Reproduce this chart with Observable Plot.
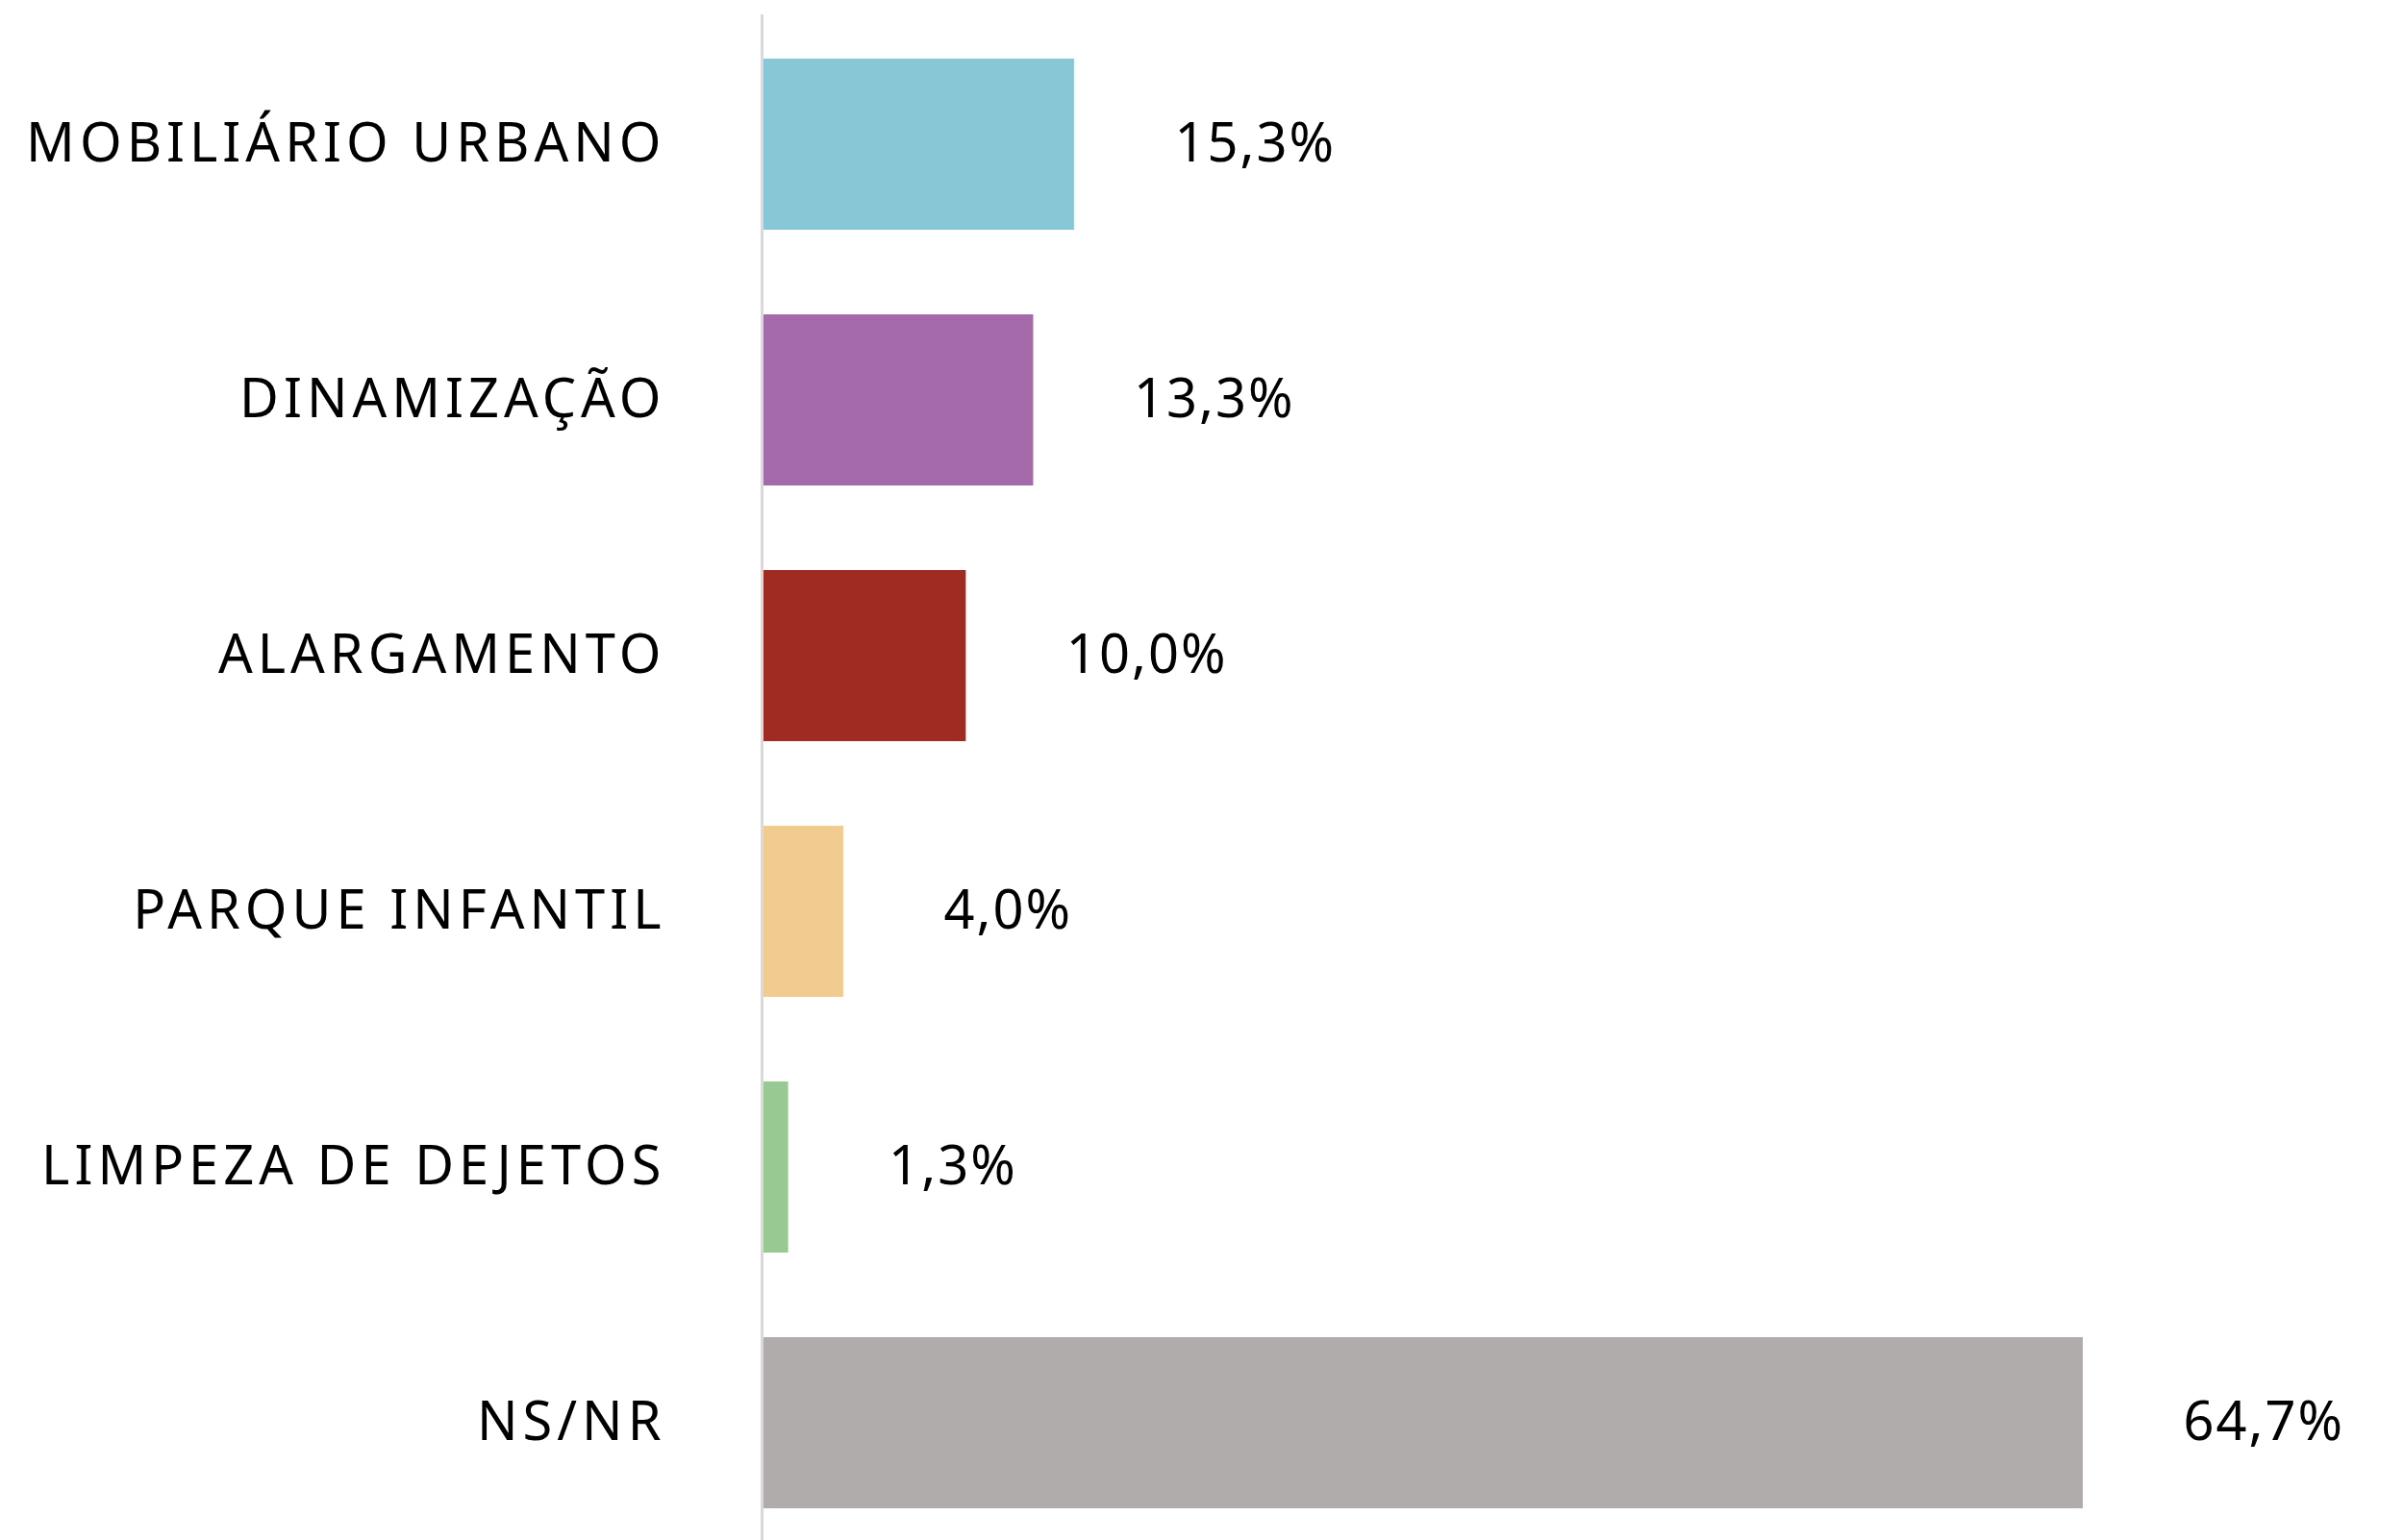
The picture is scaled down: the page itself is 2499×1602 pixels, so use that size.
<!DOCTYPE html>
<html>
<head>
<meta charset="utf-8">
<script src="https://cdn.jsdelivr.net/npm/d3@7"></script>
<script src="https://cdn.jsdelivr.net/npm/@observablehq/plot@0.6"></script>
<style>
  html, body { margin: 0; padding: 0; background: #fff; }
  g[aria-label="y-axis tick label"] text { letter-spacing: 5px; }
  g[aria-label="text"] text { letter-spacing: 2px; }
</style>
</head>
<body>
<div id="chart"></div>
<script>
const categories = ["MOBILIÁRIO URBANO", "DINAMIZAÇÃO", "ALARGAMENTO", "PARQUE INFANTIL", "LIMPEZA DE DEJETOS", "NS/NR"];
const values = [15.3, 13.3, 10.0, 4.0, 1.3, 64.7];
const valueLabels = ["15,3%", "13,3%", "10,0%", "4,0%", "1,3%", "64,7%"];
const colors = ["#87c7d6", "#a46aaa", "#a02b22", "#f2cb90", "#98c992", "#b0acab"];

const data = categories.map((c, i) => ({category: c, value: values[i], label: valueLabels[i], color: colors[i]}));

const chart = Plot.plot({
  width: 2499,
  height: 1602,
  marginTop: 59,
  marginBottom: 31,
  marginLeft: 792,
  marginRight: 0,
  style: {fontFamily: "'Noto Sans', sans-serif", fontSize: "56px", color: "#000", background: "#fff"},
  x: {domain: [0, 64.7], range: [792, 2166], axis: null},
  y: {domain: categories, paddingInner: 0.33, paddingOuter: 0, label: null},
  marks: [
    Plot.barX(data, {y: "category", x: "value", fill: "color"}),
    Plot.ruleX([0], {stroke: "#d9d9d9", strokeWidth: 3, insetTop: -44, insetBottom: -31}),
    Plot.text(data, {y: "category", x: "value", text: "label", textAnchor: "start", dx: 104, fill: "#000", fontSize: 56}),
    Plot.axisY({tickSize: 0, tickPadding: 100, fontSize: 56, fill: "#000", label: null})
  ]
});
document.getElementById("chart").appendChild(chart);
</script>
</body>
</html>
